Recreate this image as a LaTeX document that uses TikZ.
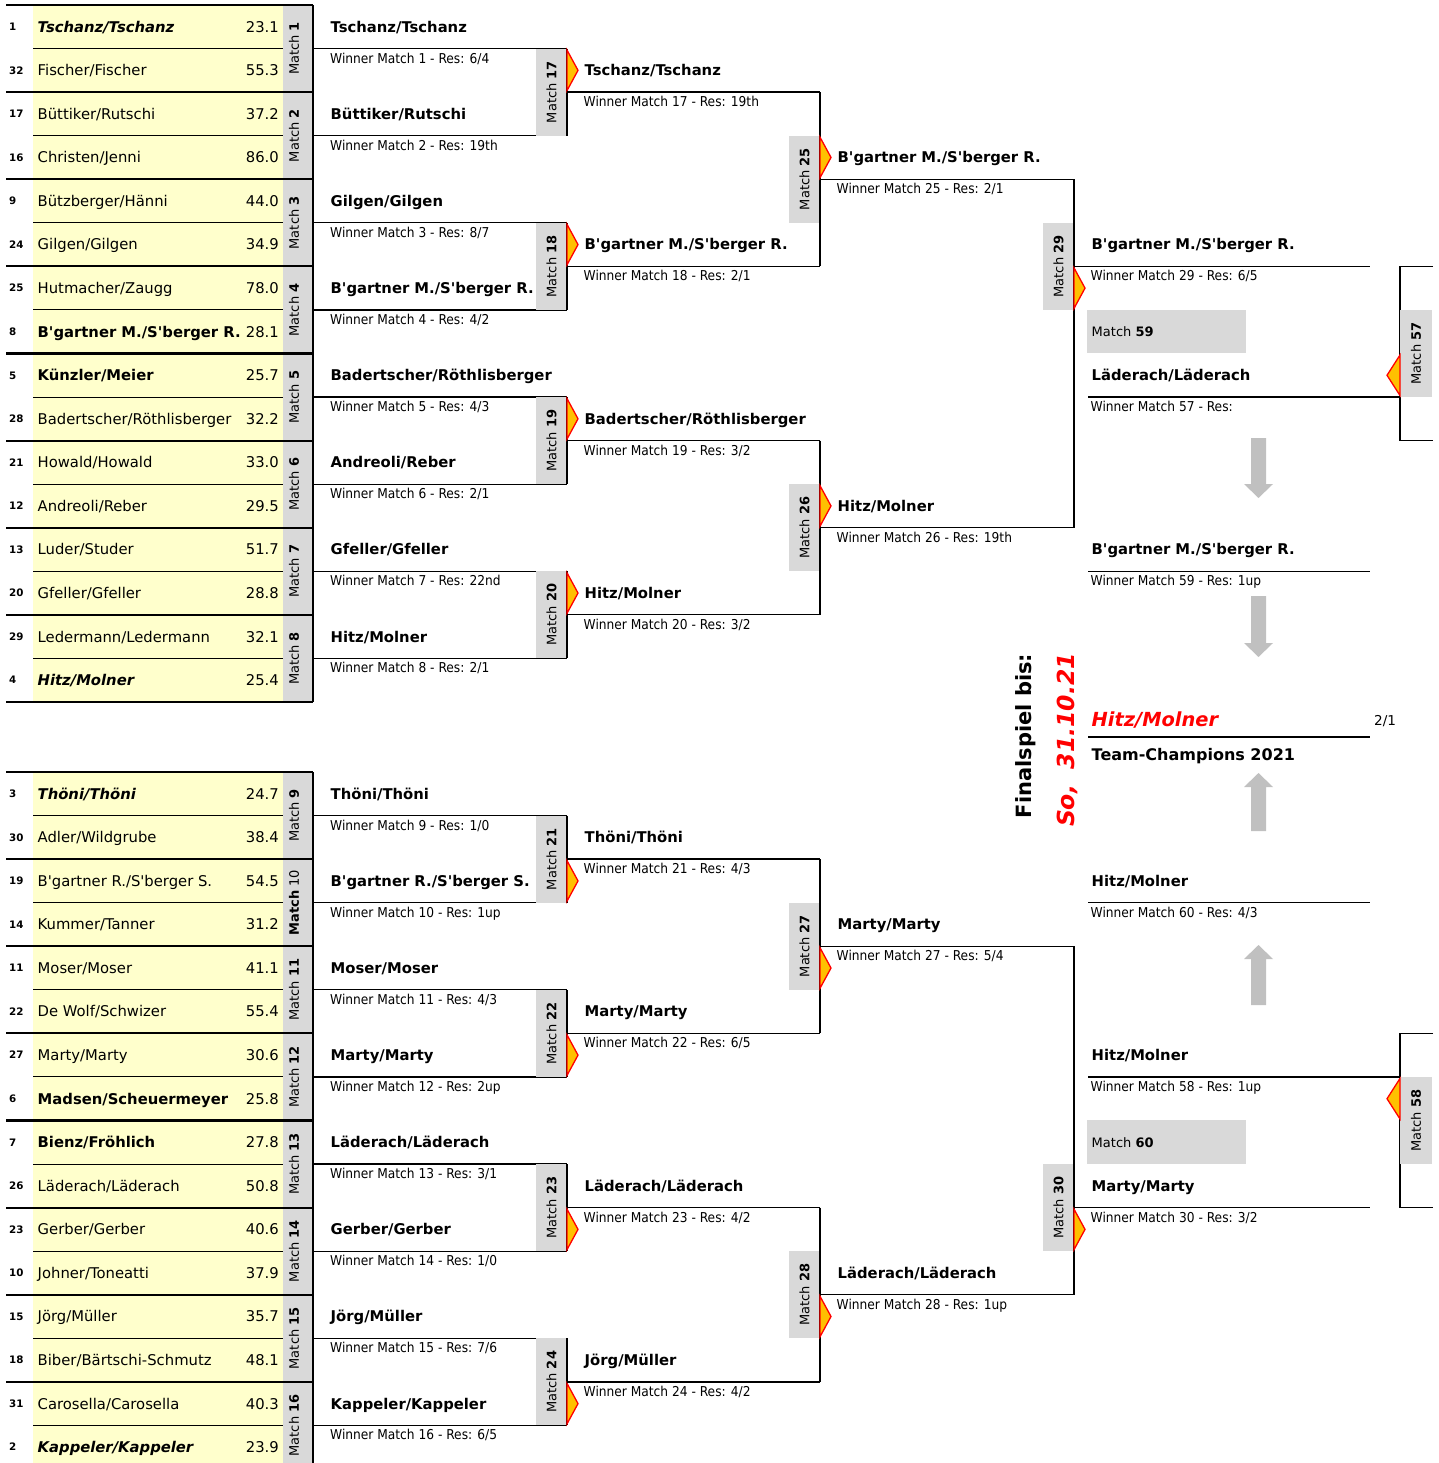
\documentclass[tikz,border=0pt]{standalone}
\usepackage{fontspec}
\setmainfont{DejaVu Sans}[Ligatures=TeXOff]
\newfontfamily\condf{DejaVu Sans Condensed}[Ligatures=TeXOff]

\definecolor{gelb}{HTML}{FFFFCC}
\definecolor{grau}{HTML}{D9D9D9}
\definecolor{pfeilgrau}{HTML}{C0C0C0}
\definecolor{spitzgelb}{HTML}{FFC000}

\newcommand{\namef}{\fontsize{14.8}{17}\selectfont}
\newcommand{\resf}{\condf\fontsize{13.6}{16}\selectfont}
\newcommand{\matchf}{\fontsize{13}{15}\selectfont}
\newcommand{\Mt}[1]{Match \textbf{#1}}
\def\rh{43.56}

\tikzset{
  linie/.style={line width=1.3pt},
  dick/.style={line width=2.2pt},
  duenn/.style={line width=1pt},
  seed/.style={anchor=base west, inner sep=0pt, font=\fontsize{10.3}{12}\selectfont\bfseries},
  normalname/.style={anchor=base west, inner sep=0pt, font=\namef},
  boldname/.style={normalname, font=\namef\bfseries},
  bitname/.style={normalname, font=\namef\bfseries\itshape},
  punkte/.style={anchor=base east, inner sep=0pt, font=\namef},
  sieger/.style={anchor=base west, inner sep=0pt, font=\namef\bfseries},
  res/.style={anchor=base west, inner sep=0pt, font=\resf},
  matchlbl/.style={rotate=90, inner sep=0pt, font=\matchf},
  matchbox/.style={fill=grau},
  spitze/.style={fill=spitzgelb, draw=red, line width=1.3pt, line join=miter},
  blockpfeil/.style={fill=pfeilgrau},
}

% dreieck nach rechts / nach links
\newcommand{\spitze}[2]{\draw[spitze] (#1,#2+1.5) -- (#1+11,#2+0.5*\rh) -- (#1,#2+\rh-1.5) -- cycle;}
\newcommand{\spitzelinks}[2]{\draw[spitze] (#1,#2+1.5) -- (#1-13,#2+0.5*\rh) -- (#1,#2+\rh-1.5) -- cycle;}

% tabelle: y0, praefix, teams, match-texte
\newcommand{\tabelle}[4]{%
  \pgfmathsetmacro\yE{#1+16*\rh}
  \fill[gelb] (33,#1) rectangle (283,\yE);
  \fill[grau] (283,#1) rectangle (313,\yE);
  \foreach \k in {1,3,...,15}{
    \pgfmathsetmacro\yk{#1+\k*\rh}
    \draw[duenn] (33,\yk) -- (283,\yk);
  }
  \foreach \k in {0,2,...,16}{
    \pgfmathsetmacro\yk{#1+\k*\rh}
    \draw[dick] (6,\yk) -- (313,\yk);
  }
  \draw[linie] (313,#1) -- (313,\yE);
  \foreach \s/\n/\p/\f [count=\i from 0] in {#3}{
    \pgfmathsetmacro\yb{#1+(\i+0.5)*\rh+5.4}
    \node[seed] (#2s\i) at (9,\yb-1.6) {\s};
    \node[\f] (#2n\i) at (37.5,\yb) {\n};
    \node[punkte] (#2p\i) at (279,\yb) {\p};
  }
  \foreach \m [count=\j from 0] in {#4}{
    \pgfmathsetmacro\yc{#1+(2*\j+1)*\rh}
    \node[matchlbl] (#2m\j) at (294,\yc) {\m};
  }
}

% runde 1: y0, praefix, offset, sieger/res
\newcommand{\rundeA}[4]{%
  \foreach \w/\r [count=\j from 0] in {#4}{
    \pgfmathsetmacro\yt{#1+(2*\j+0.5)*\rh+5.4}
    \pgfmathsetmacro\yl{#1+(2*\j+1)*\rh}
    \pgfmathtruncatemacro\mn{\j+1+#3}
    \node[sieger] (#2a\j) at (330.5,\yt) {\w};
    \coordinate (#2la\j) at (313,\yl);
    \coordinate (#2ra\j) at (567,\yl);
    \draw[linie] (#2la\j) -- (#2ra\j);
    \node[res] (#2ar\j) at (330,\yl+14.5) {Winner Match \mn{} - Res: \r};
  }
}

% runde 2: y0, praefix, lage dreieck, erste nr, sieger/res
\newcommand{\rundeB}[5]{%
  \foreach \w/\r [count=\j from 0] in {#5}{
    \pgfmathtruncatemacro\ia{2*\j}
    \pgfmathtruncatemacro\ib{2*\j+1}
    \pgfmathsetmacro\ya{#1+(4*\j+1)*\rh}
    \pgfmathsetmacro\yb{#1+(4*\j+3)*\rh}
    \pgfmathsetmacro\yl{#1+(4*\j+2)*\rh}
    \pgfmathsetmacro\ys{#1+(4*\j+1+#3)*\rh}
    \pgfmathsetmacro\yt{#1+(4*\j+1.5)*\rh+5.4}
    \pgfmathtruncatemacro\mn{#4+\j}
    \fill[matchbox] (536,\ya) rectangle (567,\yb);
    \node[matchlbl] (#2bm\j) at (551.5,\yl) {\Mt{\mn}};
    \draw[linie] (#2ra\ia) -- (#2ra\ib);
    \spitze{567}{\ys}
    \node[sieger] (#2b\j) at (584.5,\yt) {\w};
    \coordinate (#2lb\j) at (567,\yl);
    \coordinate (#2rb\j) at (820,\yl);
    \draw[linie] (#2lb\j) -- (#2rb\j);
    \node[res] (#2br\j) at (583.5,\yl+14.5) {Winner Match \mn{} - Res: \r};
  }
}

% runde 3
\newcommand{\rundeC}[5]{%
  \foreach \w/\r [count=\j from 0] in {#5}{
    \pgfmathtruncatemacro\ia{2*\j}
    \pgfmathtruncatemacro\ib{2*\j+1}
    \pgfmathsetmacro\ya{#1+(8*\j+3)*\rh}
    \pgfmathsetmacro\yb{#1+(8*\j+5)*\rh}
    \pgfmathsetmacro\yl{#1+(8*\j+4)*\rh}
    \pgfmathsetmacro\ys{#1+(8*\j+3+#3)*\rh}
    \pgfmathsetmacro\yt{#1+(8*\j+3.5)*\rh+5.4}
    \pgfmathtruncatemacro\mn{#4+\j}
    \fill[matchbox] (789,\ya) rectangle (820,\yb);
    \node[matchlbl] (#2cm\j) at (804.5,\yl) {\Mt{\mn}};
    \draw[linie] (#2rb\ia) -- (#2rb\ib);
    \spitze{820}{\ys}
    \node[sieger] (#2c\j) at (837.5,\yt) {\w};
    \coordinate (#2lc\j) at (820,\yl);
    \coordinate (#2rc\j) at (1074,\yl);
    \draw[linie] (#2lc\j) -- (#2rc\j);
    \node[res] (#2cr\j) at (836.5,\yl+14.5) {Winner Match \mn{} - Res: \r};
  }
}

% runde 4: y0, praefix, zeile, nr, sieger, res
\newcommand{\rundeD}[6]{%
  \pgfmathsetmacro\ya{#1+#3*\rh}
  \pgfmathsetmacro\yl{#1+(#3+1)*\rh}
  \pgfmathsetmacro\yb{#1+(#3+2)*\rh}
  \pgfmathsetmacro\yt{#1+(#3+0.5)*\rh+5.4}
  \fill[matchbox] (1043,\ya) rectangle (1074,\yb);
  \node[matchlbl] (#2dm) at (1058.5,\yl) {\Mt{#4}};
  \draw[linie] (#2rc0) -- (#2rc1);
  \spitze{1074}{\yl}
  \node[sieger] (#2d) at (1091.5,\yt) {#5};
  \coordinate (#2ld) at (1074,\yl);
  \coordinate (#2rd) at (1370,\yl);
  \draw[linie] (#2ld) -- (#2rd);
  \node[res] (#2dr) at (1090.5,\yl+14.5) {Winner Match #4 - Res: #6};
}

\begin{document}
\begin{tikzpicture}[x=1pt,y=-1pt]
\useasboundingbox (0,0) rectangle (1438,1463);

% oben
\tabelle{5}{o}{1/{Tschanz/Tschanz}/23.1/bitname, 32/{Fischer/Fischer}/55.3/normalname,
  17/{Büttiker/Rutschi}/37.2/normalname, 16/{Christen/Jenni}/86.0/normalname,
  9/{Bützberger/Hänni}/44.0/normalname, 24/{Gilgen/Gilgen}/34.9/normalname,
  25/{Hutmacher/Zaugg}/78.0/normalname, 8/{B'gartner M./S'berger R.}/28.1/boldname,
  5/{Künzler/Meier}/25.7/boldname, 28/{Badertscher/Röthlisberger}/32.2/normalname,
  21/{Howald/Howald}/33.0/normalname, 12/{Andreoli/Reber}/29.5/normalname,
  13/{Luder/Studer}/51.7/normalname, 20/{Gfeller/Gfeller}/28.8/normalname,
  29/{Ledermann/Ledermann}/32.1/normalname, 4/{Hitz/Molner}/25.4/bitname}
  {\Mt{1},\Mt{2},\Mt{3},\Mt{4},\Mt{5},\Mt{6},\Mt{7},\Mt{8}}
\rundeA{5}{o}{0}{{Tschanz/Tschanz}/{6/4}, {Büttiker/Rutschi}/19th,
  {Gilgen/Gilgen}/{8/7}, {B'gartner M./S'berger R.}/{4/2},
  {Badertscher/Röthlisberger}/{4/3}, {Andreoli/Reber}/{2/1},
  {Gfeller/Gfeller}/22nd, {Hitz/Molner}/{2/1}}
\rundeB{5}{o}{0}{17}{{Tschanz/Tschanz}/19th, {B'gartner M./S'berger R.}/{2/1},
  {Badertscher/Röthlisberger}/{3/2}, {Hitz/Molner}/{3/2}}
\rundeC{5}{o}{0}{25}{{B'gartner M./S'berger R.}/{2/1}, {Hitz/Molner}/19th}
\rundeD{5}{o}{5}{29}{B'gartner M./S'berger R.}{6/5}

% unten
\tabelle{772}{u}{3/{Thöni/Thöni}/24.7/bitname, 30/{Adler/Wildgrube}/38.4/normalname,
  19/{B'gartner R./S'berger S.}/54.5/normalname, 14/{Kummer/Tanner}/31.2/normalname,
  11/{Moser/Moser}/41.1/normalname, 22/{De Wolf/Schwizer}/55.4/normalname,
  27/{Marty/Marty}/30.6/normalname, 6/{Madsen/Scheuermeyer}/25.8/boldname,
  7/{Bienz/Fröhlich}/27.8/boldname, 26/{Läderach/Läderach}/50.8/normalname,
  23/{Gerber/Gerber}/40.6/normalname, 10/{Johner/Toneatti}/37.9/normalname,
  15/{Jörg/Müller}/35.7/normalname, 18/{Biber/Bärtschi-Schmutz}/48.1/normalname,
  31/{Carosella/Carosella}/40.3/normalname, 2/{Kappeler/Kappeler}/23.9/bitname}
  {\Mt{9},\textbf{Match} 10,\Mt{11},\Mt{12},\Mt{13},\Mt{14},\Mt{15},\Mt{16}}
\rundeA{772}{u}{8}{{Thöni/Thöni}/{1/0}, {B'gartner R./S'berger S.}/1up,
  {Moser/Moser}/{4/3}, {Marty/Marty}/2up,
  {Läderach/Läderach}/{3/1}, {Gerber/Gerber}/{1/0},
  {Jörg/Müller}/{7/6}, {Kappeler/Kappeler}/{6/5}}
\rundeB{772}{u}{1}{21}{{Thöni/Thöni}/{4/3}, {Marty/Marty}/{6/5},
  {Läderach/Läderach}/{4/2}, {Jörg/Müller}/{4/2}}
\rundeC{772}{u}{1}{27}{{Marty/Marty}/{5/4}, {Läderach/Läderach}/1up}
\rundeD{772}{u}{9}{30}{Marty/Marty}{3/2}

% match 57
\draw[linie] (1433,266.36) -- (1400,266.36) -- (1400,440.6) -- (1433,440.6);
\fill[matchbox] (1400,309.92) rectangle (1432,397.04);
\node[matchlbl] (m57) at (1416,353.48) {\Mt{57}};
\spitzelinks{1400}{353.48}
\coordinate (l57) at (1088,397.04);
\coordinate (r57) at (1400,397.04);
\draw[linie] (l57) -- (r57);
\node[sieger] (w57) at (1091.5,380.7) {Läderach/Läderach};
\node[res] (res57) at (1090.5,411.5) {Winner Match 57 - Res:};

% match 59
\fill[matchbox] (1087,309.92) rectangle (1246,353.48);
\node[anchor=base west, inner sep=0pt, font=\matchf] (m59) at (1091.5,336.4) {\Mt{59}};
\fill[blockpfeil] (1251,438) -- (1266,438) -- (1266,484) -- (1273,484) -- (1258.5,498)
  -- (1244,484) -- (1251,484) -- cycle;
\node[sieger] (w59) at (1091.5,554.9) {B'gartner M./S'berger R.};
\coordinate (l59) at (1088,571.28);
\coordinate (r59) at (1370,571.28);
\draw[linie] (l59) -- (r59);
\node[res] (res59) at (1090.5,585.8) {Winner Match 59 - Res: 1up};
\fill[blockpfeil] (1251,596) -- (1266,596) -- (1266,643) -- (1273,643) -- (1258.5,657)
  -- (1244,643) -- (1251,643) -- cycle;

% finale
\node[rotate=90, inner sep=0pt, font=\fontsize{21}{24}\selectfont\bfseries] (final)
  at (1026,736) {Finalspiel bis:};
\node[rotate=90, inner sep=0pt, text=red, font=\fontsize{23.5}{26}\selectfont\bfseries\itshape]
  (datum) at (1067.5,740) {So,\hspace{16pt}31.10.21};
\node[anchor=base west, inner sep=0pt, text=red, font=\fontsize{19.4}{22}\selectfont\bfseries\itshape]
  (champ) at (1091.5,726) {Hitz/Molner};
\node[anchor=base west, inner sep=0pt, font=\fontsize{13.6}{16}\selectfont] (erg) at (1374,725) {2/1};
\coordinate (lf) at (1088,737);
\coordinate (rf) at (1370,737);
\draw[linie] (lf) -- (rf);
\node[anchor=base west, inner sep=0pt, font=\fontsize{16}{19}\selectfont\bfseries] (titel)
  at (1091.5,760) {Team-Champions 2021};
\fill[blockpfeil] (1258.5,773) -- (1273,787) -- (1266,787) -- (1266,831) -- (1251,831)
  -- (1251,787) -- (1244,787) -- cycle;

% match 60
\node[sieger] (w60) at (1091.5,886.3) {Hitz/Molner};
\coordinate (l60) at (1088,902.68);
\coordinate (r60) at (1370,902.68);
\draw[linie] (l60) -- (r60);
\node[res] (res60) at (1090.5,917.2) {Winner Match 60 - Res: 4/3};
\fill[blockpfeil] (1258.5,945) -- (1273,959) -- (1266,959) -- (1266,1005) -- (1251,1005)
  -- (1251,959) -- (1244,959) -- cycle;
\fill[matchbox] (1087,1120.48) rectangle (1246,1164.04);
\node[anchor=base west, inner sep=0pt, font=\matchf] (m60) at (1091.5,1147) {\Mt{60}};

% match 58
\draw[linie] (1433,1033.36) -- (1400,1033.36) -- (1400,1207.6) -- (1433,1207.6);
\fill[matchbox] (1400,1076.92) rectangle (1432,1164.04);
\node[matchlbl] (m58) at (1416,1120.48) {\Mt{58}};
\spitzelinks{1400}{1076.92}
\coordinate (l58) at (1088,1076.92);
\coordinate (r58) at (1400,1076.92);
\draw[linie] (l58) -- (r58);
\node[sieger] (w58) at (1091.5,1060.5) {Hitz/Molner};
\node[res] (res58) at (1090.5,1091.4) {Winner Match 58 - Res: 1up};
\end{tikzpicture}
\end{document}
